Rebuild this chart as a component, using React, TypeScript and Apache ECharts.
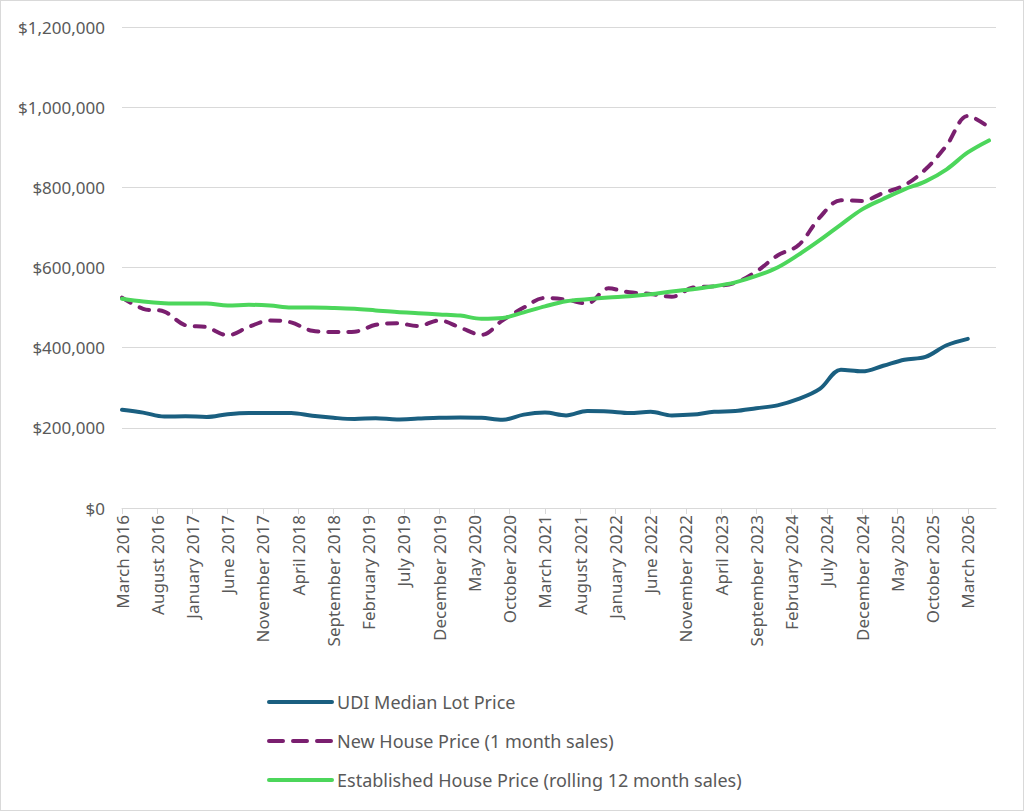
import { useEffect, useRef } from "react";
import * as echarts from "echarts";

// monthly category axis, March 2016 .. July 2026
const MONTHS = [
  "January", "February", "March", "April", "May", "June",
  "July", "August", "September", "October", "November", "December",
];
const categories: string[] = [];
for (let i = 0; i < 125; i++) {
  const m = (2 + i) % 12;
  const y = 2016 + Math.floor((2 + i) / 12);
  categories.push(`${MONTHS[m]} ${y}`);
}

// quarterly readings (Mar / Jun / Sep / Dec), first point March 2016
const lotPrice = [
  245, 238, 228, 229, 227, 234, 237, 237, 237, 230,
  225, 222, 224, 221, 223, 225, 226, 225, 220, 233,
  238, 231, 242, 241, 237, 240, 231, 233, 240, 242,
  249, 256, 272, 297, 345, 341, 355, 370, 377, 406,
  422,
];
const newHousePrice = [
  525, 497, 490, 456, 451, 431, 452, 468, 463, 442,
  439, 440, 457, 461, 454, 468, 450, 432, 468, 500,
  524, 520, 510, 548, 538, 534, 527, 550, 553, 562,
  590, 630, 656, 725, 768, 766, 786, 805, 845, 905,
  978, 950,
];
const establishedPrice = [
  522, 515, 511, 510, 510, 505, 507, 505, 500, 500,
  499, 497, 493, 489, 486, 483, 480, 472, 474, 488,
  503, 516, 521, 525, 528, 533, 540, 546, 553, 563,
  579, 600, 632, 668, 707, 745, 771, 795, 815, 845,
  887, 917,
];

const seriesNames = [
  "UDI Median Lot Price",
  "New House Price (1 month sales)",
  "Established House Price (rolling 12 month sales)",
];

const toPoints = (vals: number[]) => vals.map((v, i) => [i * 3, v * 1000]);

const FONT = "'Noto Sans', 'Liberation Sans', sans-serif";
const TEXT = "#595959";
const GRID = "#d9d9d9";

export default function App() {
  const ref = useRef<HTMLDivElement>(null);

  useEffect(() => {
    document.body.style.margin = "0";
    if (!ref.current) return;
    const chart = echarts.init(ref.current, null, { renderer: "svg" });
    chart.setOption({
      animation: false,
      backgroundColor: "#fff",
      textStyle: { fontFamily: FONT, color: TEXT },
      grid: { left: 121, right: 27, top: 26, bottom: 302 },
      legend: {
        orient: "vertical",
        left: 266,
        top: 691,
        padding: 0,
        itemWidth: 63,
        itemHeight: 14,
        itemGap: 19,
        itemStyle: { opacity: 0 },
        lineStyle: { width: 4, cap: "round" },
        textStyle: { fontSize: 18, color: TEXT, fontFamily: FONT, lineHeight: 20 },
        data: [
          { name: seriesNames[0] },
          { name: seriesNames[1], lineStyle: { type: [14, 10], width: 4, cap: "round" } },
          { name: seriesNames[2] },
        ],
      },
      xAxis: {
        type: "category",
        data: categories,
        boundaryGap: false,
        axisLine: { lineStyle: { color: GRID, width: 1 } },
        axisTick: { interval: 4, length: 6, lineStyle: { color: GRID } },
        axisLabel: {
          interval: 4,
          rotate: 90,
          margin: 7,
          fontSize: 17,
          color: TEXT,
          fontFamily: FONT,
        },
        splitLine: { show: false },
      },
      yAxis: {
        type: "value",
        min: 0,
        max: 1200000,
        interval: 200000,
        axisLine: { show: false },
        axisTick: { show: false },
        axisLabel: {
          margin: 17,
          fontSize: 17,
          color: TEXT,
          fontFamily: FONT,
          formatter: (v: number) => "$" + v.toLocaleString("en-US"),
        },
        splitLine: { lineStyle: { color: GRID, width: 1 } },
      },
      series: [
        {
          name: seriesNames[0],
          type: "line",
          data: toPoints(lotPrice),
          smooth: 0.35,
          symbol: "none",
          color: "#1a5f80",
          lineStyle: { width: 4, color: "#1a5f80", cap: "round" },
        },
        {
          name: seriesNames[1],
          type: "line",
          data: toPoints(newHousePrice),
          smooth: 0.35,
          symbol: "none",
          color: "#7a1f6f",
          lineStyle: { width: 4, color: "#7a1f6f", type: [10, 10], cap: "round" },
        },
        {
          name: seriesNames[2],
          type: "line",
          data: toPoints(establishedPrice),
          smooth: 0.35,
          symbol: "none",
          color: "#4cd65b",
          lineStyle: { width: 4, color: "#4cd65b", cap: "round" },
        },
      ],
    });
    return () => chart.dispose();
  }, []);

  return (
    <div
      style={{
        width: 1024,
        height: 811,
        boxSizing: "border-box",
        border: "1px solid #d9d9d9",
      }}
    >
      <div ref={ref} style={{ width: 1022, height: 809 }} />
    </div>
  );
}
